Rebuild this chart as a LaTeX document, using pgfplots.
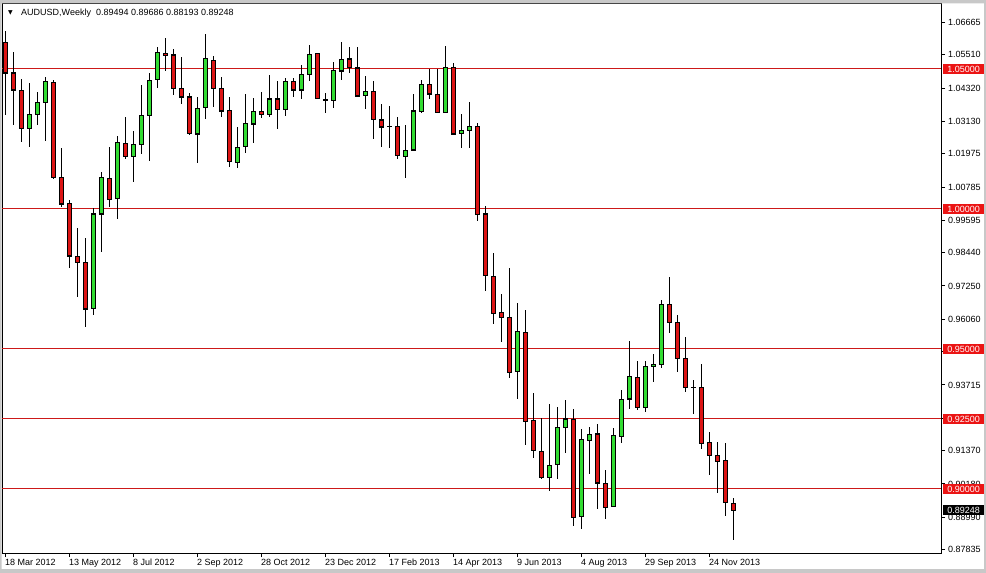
\documentclass[border=0pt]{standalone}
\usepackage{fontspec}
\setmainfont{Liberation Sans}
\newfontfamily\symfont{DejaVu Sans}
\usepackage{pgfplots}
\usepackage{pgfplotstable}
\pgfplotsset{compat=1.18}

\definecolor{bullc}{RGB}{50,220,50}
\definecolor{bearc}{RGB}{220,20,20}
\definecolor{lvl}{RGB}{205,25,25}
\definecolor{lvlbox}{RGB}{235,20,20}
\definecolor{winframe}{RGB}{200,200,200}

\newcommand{\mtfont}{\fontsize{9bp}{10bp}\selectfont}

% weekly AUDUSD candles, i = weeks since 18 Mar 2012
\pgfplotstableread{
i  o       h       l       c
3  1.02893 1.04500 1.02214 1.03393
4  1.03393 1.04179 1.03000 1.03821
5  1.03821 1.04714 1.02429 1.04536
11 0.96429 1.00036 0.96214 0.99821
12 0.99821 1.01321 0.98464 1.01107
14 1.00357 1.02607 0.99643 1.02357
16 1.01893 1.02786 1.00964 1.02321
17 1.02321 1.04429 1.01964 1.03357
18 1.03357 1.04857 1.01714 1.04607
19 1.04607 1.05786 1.04321 1.05571
24 1.02679 1.04000 1.01643 1.03607
25 1.03607 1.06250 1.03214 1.05357
29 1.01679 1.02929 1.01464 1.02214
30 1.02214 1.04107 1.02000 1.03036
31 1.03036 1.03964 1.02357 1.03500
33 1.03393 1.04786 1.03286 1.03929
35 1.03571 1.04679 1.03321 1.04571
37 1.04250 1.05143 1.03929 1.04821
38 1.04821 1.05857 1.04571 1.05536
40 1.03893 1.04143 1.03429 1.03893
41 1.03857 1.05250 1.03607 1.04929
42 1.04929 1.05964 1.04607 1.05357
45 1.04071 1.04750 1.03571 1.04214
48 1.02964 1.03679 1.02179 1.02964
50 1.01893 1.03000 1.01107 1.02107
51 1.02107 1.04107 1.02071 1.03500
52 1.03500 1.04607 1.03429 1.04464
55 1.03464 1.05821 1.03429 1.05071
57 1.02714 1.03393 1.02179 1.02821
58 1.02821 1.03821 1.02179 1.02964
64 0.94179 0.96643 0.93214 0.95607
68 0.90429 0.93036 0.89929 0.90857
69 0.90857 0.92929 0.90357 0.92179
70 0.92179 0.93179 0.91286 0.92500
72 0.89000 0.92143 0.88571 0.91750
73 0.91750 0.92214 0.90536 0.91964
76 0.89357 0.92179 0.89357 0.91893
77 0.91893 0.93536 0.91643 0.93214
78 0.93214 0.95286 0.92857 0.94000
80 0.92929 0.94571 0.92750 0.94393
81 0.94393 0.94821 0.93821 0.94464
82 0.94464 0.96750 0.94321 0.96607
86 0.93643 0.93893 0.92679 0.93643
}\bull

\pgfplotstableread{
i  o       h       l       c
0  1.05964 1.06357 1.03357 1.04857
1  1.04857 1.05607 1.03000 1.04250
2  1.04250 1.04643 1.02393 1.02893
6  1.04536 1.04607 1.01071 1.01143
7  1.01143 1.02179 1.00071 1.00179
8  1.00179 1.00321 0.97893 0.98321
9  0.98321 0.99321 0.96857 0.98107
10 0.98107 0.98964 0.95786 0.96429
13 1.01107 1.02214 1.00071 1.00357
15 1.02357 1.03286 1.01786 1.01893
20 1.05571 1.06107 1.04929 1.05500
21 1.05500 1.05714 1.04071 1.04321
22 1.04321 1.05429 1.03750 1.04000
23 1.04000 1.04143 1.02643 1.02679
26 1.05321 1.05464 1.03643 1.04321
27 1.04321 1.04714 1.03286 1.03500
28 1.03500 1.04000 1.01500 1.01679
32 1.03500 1.04179 1.03250 1.03393
34 1.03929 1.04571 1.02857 1.03571
36 1.04571 1.04679 1.04000 1.04250
39 1.05536 1.05571 1.03914 1.03929
43 1.05357 1.05786 1.04857 1.05036
44 1.05036 1.05786 1.04000 1.04036
46 1.04214 1.04571 1.02500 1.03179
47 1.03179 1.03750 1.02214 1.02929
49 1.02964 1.03286 1.01786 1.01893
53 1.04464 1.05000 1.03929 1.04107
54 1.04107 1.05000 1.03429 1.03464
56 1.05071 1.05214 1.02643 1.02679
59 1.02964 1.03071 0.99571 0.99821
60 0.99821 1.00107 0.97071 0.97607
61 0.97607 0.98429 0.95893 0.96286
62 0.96321 0.96964 0.95250 0.96143
63 0.96143 0.97893 0.93964 0.94179
65 0.95607 0.96393 0.91571 0.92429
66 0.92429 0.93429 0.91107 0.91357
67 0.91357 0.92536 0.90357 0.90429
71 0.92500 0.92857 0.88679 0.89000
74 0.91964 0.92321 0.89286 0.90214
75 0.90214 0.90679 0.88929 0.89357
79 0.94000 0.94571 0.92821 0.92929
83 0.96607 0.97571 0.95571 0.95964
84 0.95964 0.96214 0.94179 0.94679
85 0.94679 0.95429 0.93464 0.93643
87 0.93643 0.94464 0.91429 0.91643
88 0.91643 0.92036 0.90500 0.91179
89 0.91179 0.91679 0.89857 0.91000
90 0.91000 0.91643 0.89036 0.89500
91 0.89494 0.89686 0.88193 0.89248
}\bear

\pgfplotsset{
  wick/.style={draw=none, mark=none,
    error bars/.cd, y dir=both, y explicit, error mark=none,
    error bar style={draw=black, line width=1bp}},
  body/.style 2 args={draw=none, mark=none,
    error bars/.cd, y dir=both, y explicit, error mark=none,
    error bar style={draw=#1, line width=#2}},
}
% wick, black outline, coloured body
\newcommand{\candles}[2]{%
  \addplot[wick] table[x=i, y expr={(\thisrow{h}+\thisrow{l})/2},
    y error expr={(\thisrow{h}-\thisrow{l})/2}] {#1};
  \addplot[body={black}{5bp}] table[x=i, y expr={(\thisrow{o}+\thisrow{c})/2},
    y error expr={abs(\thisrow{o}-\thisrow{c})/2+0.00018}] {#1};
  \addplot[body={#2}{3bp}] table[x=i, y expr={(\thisrow{o}+\thisrow{c})/2},
    y error expr={max(abs(\thisrow{o}-\thisrow{c})/2-0.00018,0)}] {#1};
}

\begin{document}
\begin{tikzpicture}
\begin{axis}[
  scale only axis, width=939bp, height=549bp,
  xmin=-0.375, xmax=117, ymin=0.87714, ymax=1.07321,
  enlargelimits=false, clip=false,
  axis line style={black, line width=1bp},
  tick align=outside, major tick length=4bp,
  tick style={black, line width=1bp},
  xtick pos=left, ytick pos=right, yticklabel pos=right,
  xtick={0,8,...,88},
  xticklabels={18 Mar 2012, 13 May 2012, 8 Jul 2012, 2 Sep 2012, 28 Oct 2012,
    23 Dec 2012, 17 Feb 2013, 14 Apr 2013, 9 Jun 2013, 4 Aug 2013,
    29 Sep 2013, 24 Nov 2013},
  ytick={1.06665,1.05510,1.04320,1.03130,1.01975,1.00785,0.99595,0.98440,
    0.97250,0.96060,0.94905,0.93715,0.92525,0.91370,0.90180,0.88990,0.87835},
  yticklabels={1.06665,1.05510,1.04320,1.03130,1.01975,1.00785,0.99595,0.98440,
    0.97250,0.96060,{},0.93715,{},0.91370,0.90180,0.88990,0.87835},
  xticklabel style={font=\mtfont, anchor=north west, inner sep=0pt, yshift=-2bp},
  yticklabel style={font=\mtfont, anchor=west, inner sep=0pt, xshift=3bp},
]
\addplot[lvl, line width=1bp] coordinates {(-0.375,1.05) (117,1.05)};
\addplot[lvl, line width=1bp] coordinates {(-0.375,1.00) (117,1.00)};
\addplot[lvl, line width=1bp] coordinates {(-0.375,0.95) (117,0.95)};
\addplot[lvl, line width=1bp] coordinates {(-0.375,0.925) (117,0.925)};
\addplot[lvl, line width=1bp] coordinates {(-0.375,0.90) (117,0.90)};

\candles{\bull}{bullc}
\candles{\bear}{bearc}

\coordinate (b1) at (axis cs:117,1.05);
\coordinate (b2) at (axis cs:117,1.00);
\coordinate (b3) at (axis cs:117,0.95);
\coordinate (b4) at (axis cs:117,0.925);
\coordinate (b5) at (axis cs:117,0.90);
\coordinate (bp) at (axis cs:117,0.89248);
\end{axis}

\tikzset{pricebox/.style={anchor=west, xshift=2bp, inner sep=0pt,
  minimum width=41bp, minimum height=10bp, font=\mtfont, text=white}}
\node[pricebox, fill=lvlbox] at (b1) {1.05000};
\node[pricebox, fill=lvlbox] at (b2) {1.00000};
\node[pricebox, fill=lvlbox] at (b3) {0.95000};
\node[pricebox, fill=lvlbox] at (b4) {0.92500};
\node[pricebox, fill=lvlbox] at (b5) {0.90000};
\node[pricebox, fill=black] at (bp) {0.89248};

\node[inner sep=0pt] at (8.5bp,540.5bp) {\symfont\fontsize{6bp}{6bp}\selectfont ▼};
\node[anchor=base west, inner sep=0pt, font=\mtfont] at (19bp,537bp)
  {AUDUSD,Weekly\hspace{5bp}0.89494 0.89686 0.88193 0.89248};

\pgfresetboundingbox
\path[use as bounding box] (-2bp,-20bp) rectangle (984bp,553bp);
\fill[winframe, even odd rule] (-2bp,-20bp) rectangle (984bp,553bp)
  (-0.5bp,-16bp) rectangle (982bp,549.5bp);
\end{tikzpicture}
\end{document}
